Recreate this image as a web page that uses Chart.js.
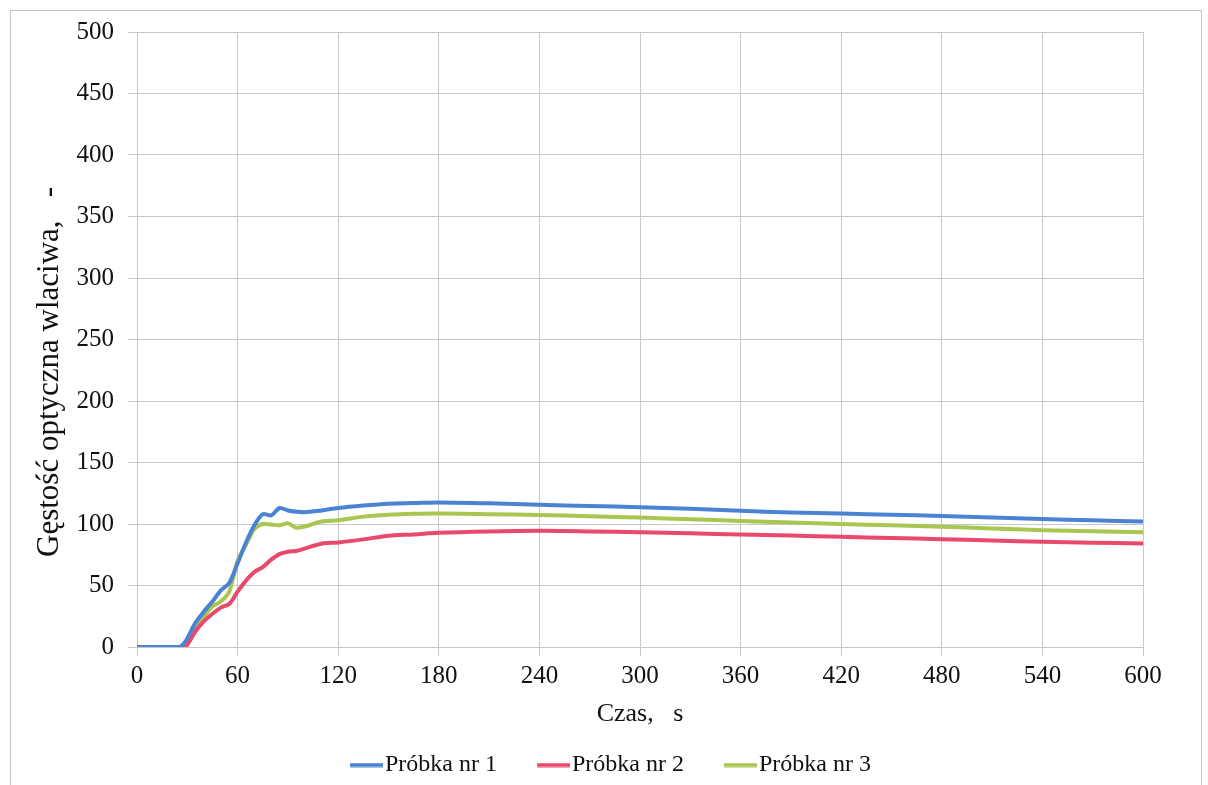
<!DOCTYPE html>
<html>
<head>
<meta charset="utf-8">
<script src="https://cdn.jsdelivr.net/npm/chart.js@4.4.0/dist/chart.umd.min.js"></script>
<style>
  html, body { margin: 0; padding: 0; background: #fff; }
  #frame { position: absolute; left: 10px; top: 10px; width: 1190px; height: 800px; border: 1px solid #c4c4c4; }
  #wrap { position: absolute; left: 0; top: 0; width: 1208px; height: 785px; }
</style>
</head>
<body>
<div id="frame"></div>
<div id="wrap"><canvas id="chart"></canvas></div>
<script>
// Czas, s
const times = [0, 25, 28, 30, 35, 40, 45, 50, 55, 60, 65, 70, 75, 80, 85, 90, 95, 100, 110, 120,
  135, 150, 165, 180, 210, 240, 270, 300, 330, 360, 390, 420, 450, 480, 510, 540, 570, 600];

const sample1 = [0, 0, 3, 7, 20, 29, 37, 46, 52, 68, 85, 99, 108, 107, 113, 111, 110, 109.5, 111, 113,
  115, 116.5, 117, 117.5, 116.8, 115.6, 114.7, 113.7, 112.3, 110.7, 109.4, 108.5, 107.5, 106.5, 105.2, 104, 103, 102];

const sample2 = [0, 0, 0, 2, 13, 21, 27, 32, 35, 45, 54, 61, 65, 71, 75.5, 77.5, 78, 80, 84, 85,
  87.5, 90.5, 91.5, 92.9, 94, 94.5, 94, 93.3, 92.4, 91.5, 90.6, 89.6, 88.6, 87.7, 86.6, 85.5, 84.8, 84.2];

const sample3 = [0, 0, 0, 2, 14, 25, 33, 37, 45, 70, 83, 96, 100, 99.5, 99, 100.5, 97, 98, 102, 103,
  106, 107.5, 108.3, 108.6, 108, 107.4, 106.3, 105.2, 103.9, 102.5, 101.2, 100, 98.9, 97.8, 96.4, 95, 94.1, 93.2];

const seriesNames = ['Próbka nr 1', 'Próbka nr 2', 'Próbka nr 3'];
const seriesColors = ['#4a83d4', '#e8496c', '#a9c650'];
const yTitle = 'Gęstość optyczna wlaciwa,   -';
const xTitle = 'Czas,   s';

const FONT = '"Liberation Serif", "Times New Roman", serif';
const toPoints = (vals) => vals.map((v, i) => ({ x: times[i], y: v }));

// legend marker: short line placed right next to the label text
function legendLine(color) {
  const c = document.createElement('canvas');
  c.width = 65;
  c.height = 5;
  const g = c.getContext('2d');
  g.fillStyle = color;
  g.fillRect(32, 0.5, 33, 4);
  return c;
}

const datasets = [sample1, sample2, sample3].map((vals, i) => ({
  label: seriesNames[i],
  data: toPoints(vals),
  borderColor: seriesColors[i],
  backgroundColor: seriesColors[i],
  borderWidth: 4,
  pointRadius: 0,
  pointStyle: legendLine(seriesColors[i]),
  tension: 0.3,
  fill: false
}));

// y axis title, drawn by hand so it can sit where the original has it
const yTitlePlugin = {
  id: 'yTitle',
  afterDraw(chart) {
    const ctx = chart.ctx;
    ctx.save();
    ctx.translate(50, 557);
    ctx.rotate(-Math.PI / 2);
    ctx.font = '31px ' + FONT;
    ctx.fillStyle = '#111';
    ctx.textAlign = 'left';
    ctx.textBaseline = 'middle';
    ctx.fillText(yTitle, 0, 0);
    ctx.restore();
  }
};

const legendHeight = {
  id: 'legendHeight',
  afterInit(chart) {
    const legend = chart.legend;
    const fit = legend.fit;
    legend.fit = function () {
      fit.call(this);
      this.height = 50;
    };
  }
};

new Chart(document.getElementById('chart'), {
  type: 'line',
  data: { datasets },
  plugins: [yTitlePlugin, legendHeight],
  options: {
    responsive: true,
    maintainAspectRatio: false,
    animation: false,
    layout: { padding: { left: 56, right: 65, top: 32, bottom: 0 } },
    plugins: {
      legend: {
        position: 'bottom',
        labels: {
          usePointStyle: true,
          pointStyleWidth: 45,
          boxHeight: 4,
          padding: 18,
          color: '#111',
          font: { family: FONT, size: 24 }
        }
      },
      tooltip: { enabled: false }
    },
    scales: {
      x: {
        type: 'linear',
        min: 0,
        max: 600,
        ticks: { stepSize: 60, color: '#111', padding: 5, font: { family: FONT, size: 25 } },
        grid: { color: '#c8c8c8', tickLength: 9, lineWidth: 1 },
        border: { color: '#c8c8c8' },
        title: { display: true, text: xTitle, color: '#111', padding: { top: 4, bottom: 5 }, font: { family: FONT, size: 26 } },
        afterFit: (scale) => { scale.height = 88; }
      },
      y: {
        min: 0,
        max: 500,
        ticks: { stepSize: 50, color: '#111', padding: 14, font: { family: FONT, size: 25 } },
        grid: { color: '#c8c8c8', tickLength: 9, lineWidth: 1 },
        border: { color: '#c8c8c8' },
        afterFit: (scale) => { scale.width = 81; }
      }
    }
  }
});
</script>
</body>
</html>
